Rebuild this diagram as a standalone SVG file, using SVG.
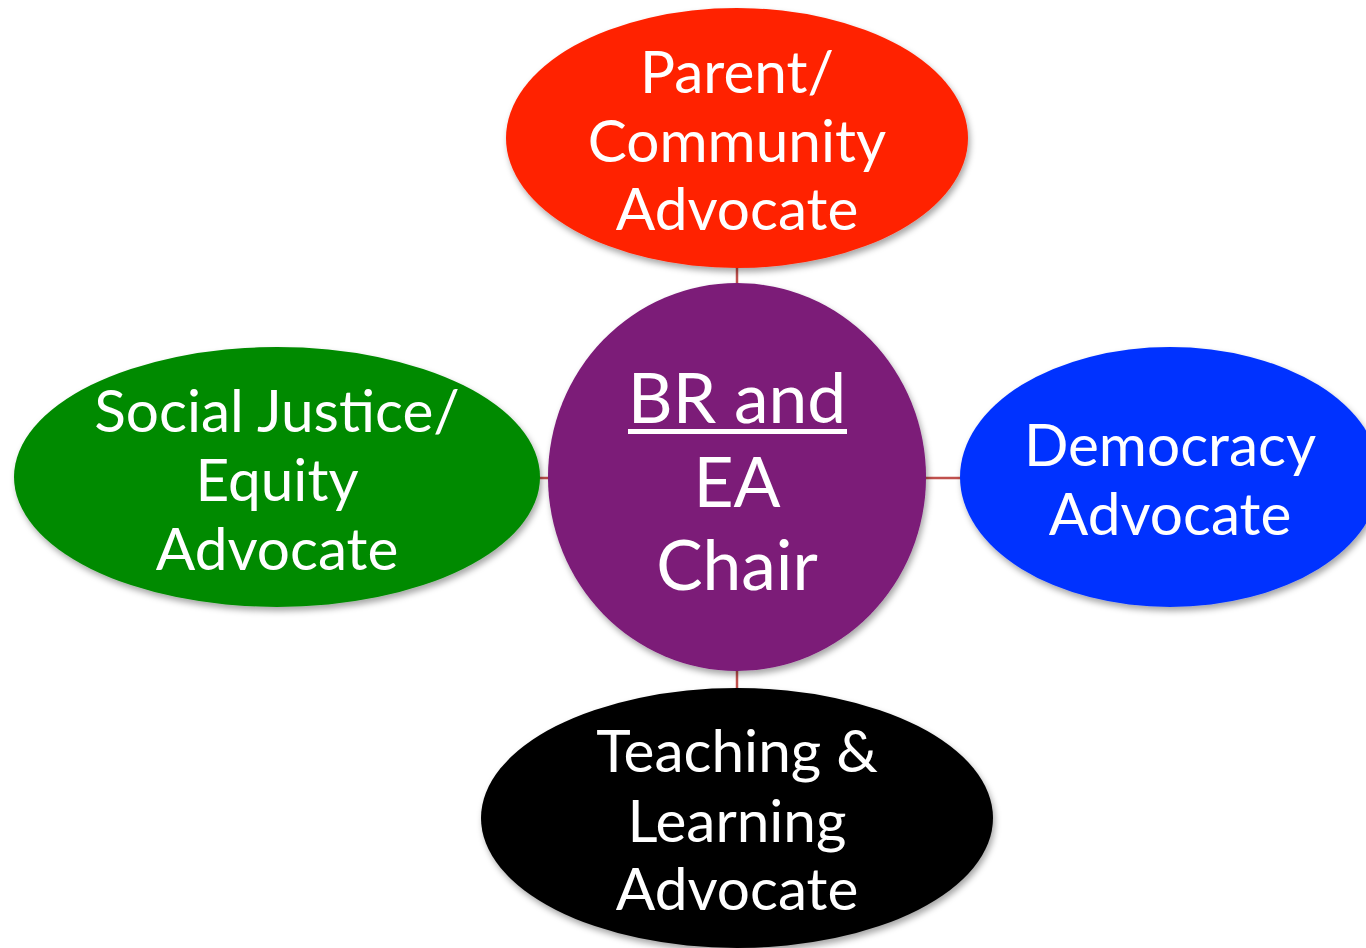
<svg xmlns="http://www.w3.org/2000/svg" width="1366" height="948" viewBox="0 0 1366 948">
<defs>
<filter id="sh" x="-10%" y="-10%" width="120%" height="125%">
<feDropShadow dx="2" dy="4" stdDeviation="3" flood-color="#000" flood-opacity="0.35"/>
</filter>
<style>
.t{font-family:Lato,"Open Sans",sans-serif;fill:#fff;text-anchor:middle;font-size:58.5px}
.c{font-size:69.5px}
.con line{stroke:#C0504D;stroke-width:2.5}
</style>
</defs>
<rect width="1366" height="948" fill="#fff"/>
<g class="con">
<line x1="737" y1="265" x2="737" y2="286"/>
<line x1="737" y1="668" x2="737" y2="691"/>
<line x1="537" y1="478" x2="551" y2="478"/>
<line x1="923" y1="478" x2="963" y2="478"/>
</g>
<g id="parent">
<ellipse cx="737" cy="138" rx="231" ry="130" fill="#FF2200" filter="url(#sh)"/>
<text class="t" x="737" y="93">Parent/</text>
<text class="t" x="737" y="162">Community</text>
<text class="t" x="737" y="230">Advocate</text>
</g>
<g id="social">
<ellipse cx="277" cy="477" rx="263" ry="130" fill="#008A00" filter="url(#sh)"/>
<text class="t" x="277" y="432">Social Justice/</text>
<text class="t" x="277" y="501">Equity</text>
<text class="t" x="277" y="570">Advocate</text>
</g>
<g id="democracy">
<ellipse cx="1170" cy="477" rx="210" ry="130" fill="#0033FF" filter="url(#sh)"/>
<text class="t" x="1170" y="466">Democracy</text>
<text class="t" x="1170" y="535">Advocate</text>
</g>
<g id="teaching">
<ellipse cx="737" cy="818" rx="256" ry="130" fill="#000" filter="url(#sh)"/>
<text class="t" x="737" y="772">Teaching &amp;</text>
<text class="t" x="737" y="842">Learning</text>
<text class="t" x="737" y="910">Advocate</text>
</g>
<g id="chair">
<ellipse cx="737" cy="477" rx="189" ry="194" fill="#7B1A78" filter="url(#sh)"/>
<text class="t c" x="737" y="423">BR and</text>
<rect x="628" y="429" width="219" height="5" fill="#fff"/>
<text class="t c" x="737" y="507">EA</text>
<text class="t c" x="737" y="590">Chair</text>
</g>
</svg>
